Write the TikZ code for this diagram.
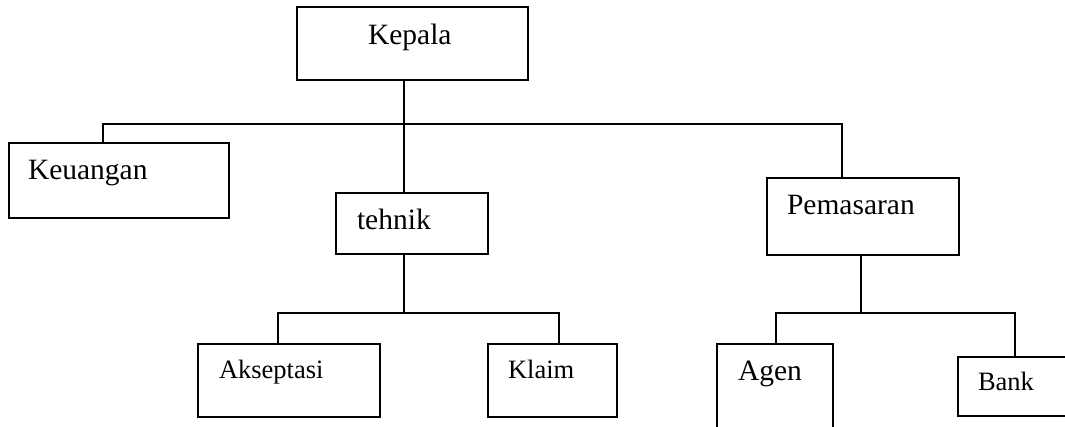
\documentclass[tikz,border=0pt]{standalone}
\usepackage{fontspec}
\setmainfont{Liberation Serif}
\newcommand{\bigtext}{\fontsize{29.5}{35}\selectfont}
\newcommand{\smalltext}{\fontsize{26.5}{32}\selectfont}
\begin{document}
\begin{tikzpicture}[x=1pt,y=1pt,line width=1.6pt]
	\tikzstyle{unit}=[draw, anchor=north west, inner ysep=0pt, outer sep=0pt, align=left, font=\bigtext]
	\useasboundingbox (0,0) rectangle (1065,-427);
	\node [unit, inner xsep=71pt, text width=89pt, text height=38pt, text depth=35pt] (kepala) at (297,-7) {Kepala};
	\node [unit, inner xsep=19pt, text width=182pt, text height=37pt, text depth=38pt] (keuangan) at (9,-143) {Keuangan};
	\node [unit, inner xsep=21pt, text width=110pt, text height=37pt, text depth=24pt] (tehnik) at (336,-193) {tehnik};
	\node [unit, inner xsep=20pt, text width=152pt, text height=37pt, text depth=40pt] (pemasaran) at (767,-178) {Pemasaran};
	\node [unit, font=\smalltext, inner xsep=21pt, text width=140pt, text height=34pt, text depth=39pt] (akseptasi) at (198,-344) {Akseptasi};
	\node [unit, font=\smalltext, inner xsep=20pt, text width=89pt, text height=34pt, text depth=39pt] (klaim) at (488,-344) {Klaim};
	\node [unit, inner xsep=21pt, text width=74pt, text height=36pt, text depth=60pt] (agen) at (717,-344) {Agen};
	\node [unit, font=\smalltext, inner xsep=20pt, text width=92pt, text height=33pt, text depth=26pt] (bank) at (958,-357) {Bank};
	\coordinate (bus1) at (404,-124);
	\coordinate (bus2) at (404,-313);
	\coordinate (bus3) at (861,-313);
	\draw ([xshift=107pt]kepala.south west) -- ([xshift=68pt]tehnik.north west);
	\draw ([xshift=94pt]keuangan.north west) |- (bus1) -| ([xshift=75pt]pemasaran.north west);
	\draw ([xshift=68pt]tehnik.south west) -- (bus2);
	\draw ([xshift=80pt]akseptasi.north west) |- (bus2) -| ([xshift=71pt]klaim.north west);
	\draw ([xshift=94pt]pemasaran.south west) -- (bus3);
	\draw ([xshift=59pt]agen.north west) |- (bus3) -| ([xshift=57pt]bank.north west);
\end{tikzpicture}
\end{document}
